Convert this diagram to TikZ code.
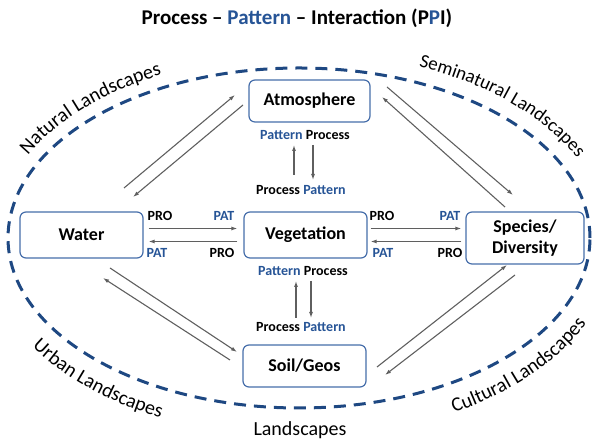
\documentclass[tikz,border=0pt]{standalone}
\usepackage{fontspec}
\setmainfont{Carlito}
\usetikzlibrary{arrows.meta,decorations.text}
\definecolor{bluetxt}{RGB}{38,84,150}
\definecolor{dashblue}{RGB}{30,72,130}
\definecolor{boxblue}{RGB}{70,110,170}
\definecolor{arrgray}{RGB}{95,95,95}
\begin{document}
\begin{tikzpicture}[x=1pt,y=1pt,
  box/.style={draw=boxblue, line width=1.2pt, rounded corners=6pt, fill=white,
    font=\fontsize{18}{21}\selectfont\bfseries, align=center, inner sep=0pt},
  arr/.style={draw=arrgray, line width=1.1pt, -{Latex[length=6pt,width=4pt]}},
  lbl/.style={font=\fontsize{14}{16}\selectfont\bfseries, inner sep=0pt},
  blu/.style={lbl, text=bluetxt}]
\useasboundingbox (0,0) rectangle (595,443);

% title
\node[font=\fontsize{21}{25}\selectfont\bfseries] (title) at (297,425)
  {Process -- \textcolor{bluetxt}{Pattern} -- Interaction (P\textcolor{bluetxt}{P}I)};

% dashed landscape ellipse
\draw[dashblue, line width=3pt, dash pattern=on 12pt off 8pt] (299,205) ellipse [x radius=291, y radius=170];

% landscape labels
\path[decorate, decoration={text along path, text align=center,
  text={|\fontsize{20}{24}\selectfont|Natural Landscapes}}]
  (299,205) ++(172:304 and 183) arc[start angle=172, end angle=104, x radius=304, y radius=183];
\path[decorate, decoration={text along path, text align=center,
  text={|\fontsize{19}{23}\selectfont|Seminatural Landscapes}}]
  (299,205) ++(80:308 and 186) arc[start angle=80, end angle=6, x radius=308, y radius=186];
\path[decorate, decoration={text along path, text align=center,
  text={|\fontsize{20}{24}\selectfont|Urban Landscapes}}]
  (299,205) ++(194:318 and 200) arc[start angle=194, end angle=258, x radius=318, y radius=200];
\path[decorate, decoration={text along path, text align=center,
  text={|\fontsize{20}{24}\selectfont|Cultural Landscapes}}]
  (299,205) ++(285:318 and 200) arc[start angle=285, end angle=355, x radius=318, y radius=200];
\node[font=\fontsize{20}{24}\selectfont] (land) at (300,13) {Landscapes};

% boxes
\node[box, minimum width=121pt, minimum height=42pt] (atm) at (309.5,342) {Atmosphere};
\node[box, minimum width=123pt, minimum height=46pt] (wat) at (81.5,208) {Water};
\node[box, minimum width=123pt, minimum height=46pt] (veg) at (305.5,208) {Vegetation};
\node[box, minimum width=118pt, minimum height=52pt] (spe) at (525,205) {Species/\\Diversity};
\node[box, minimum width=123pt, minimum height=42pt] (soi) at (304.5,77) {Soil/Geos};

% horizontal arrows
\coordinate (wv1) at ([yshift=6.5pt]wat.east);
\coordinate (wv2) at ([yshift=-6.5pt]wat.east);
\draw[arr, shorten <=5pt, shorten >=6pt] (wv1) -- (wv1 -| veg.west);
\draw[arr, shorten <=6pt, shorten >=5pt] (wv2 -| veg.west) -- (wv2);
\coordinate (vs1) at ([yshift=6.5pt]veg.east);
\coordinate (vs2) at ([yshift=-6.5pt]veg.east);
\draw[arr, shorten <=3pt, shorten >=4pt] (vs1) -- (vs1 -| spe.west);
\draw[arr, shorten <=4pt, shorten >=3pt] (vs2 -| spe.west) -- (vs2);

\node[lbl] (pro1) at (160,227) {PRO};
\node[blu] (pat1) at (224,227) {PAT};
\node[blu] (pat2) at (157,190) {PAT};
\node[lbl] (pro2) at (222,190) {PRO};
\node[lbl] (pro3) at (382,227) {PRO};
\node[blu] (pat3) at (450,227) {PAT};
\node[blu] (pat4) at (383,190) {PAT};
\node[lbl] (pro4) at (450,190) {PRO};

% vertical links
\node[lbl] (pp1) at (305,308) {\textcolor{bluetxt}{Pattern} Process};
\node[lbl] (pq1) at (301,253) {Process \textcolor{bluetxt}{Pattern}};
\coordinate (a1) at (294,268); \coordinate (a2) at (294,298);
\coordinate (a3) at (313,298); \coordinate (a4) at (313,263);
\draw[arr] (a1) -- (a2);
\draw[arr] (a3) -- (a4);

\node[lbl] (pp2) at (303,172) {\textcolor{bluetxt}{Pattern} Process};
\node[lbl] (pq2) at (301,116) {Process \textcolor{bluetxt}{Pattern}};
\coordinate (b1) at (296,125); \coordinate (b2) at (296,162);
\coordinate (b3) at (311,162); \coordinate (b4) at (311,125);
\draw[arr] (b1) -- (b2);
\draw[arr] (b3) -- (b4);

% diagonal links
\coordinate (wa1) at (124,255); \coordinate (wa2) at (235,348);
\coordinate (wa3) at (243,338); \coordinate (wa4) at (133,246);
\draw[arr] (wa1) -- (wa2);
\draw[arr] (wa3) -- (wa4);
\coordinate (as1) at (387,356); \coordinate (as2) at (513,248);
\coordinate (as3) at (505,236); \coordinate (as4) at (382,346);
\draw[arr] (as1) -- (as2);
\draw[arr] (as3) -- (as4);
\coordinate (ws1) at (110,175); \coordinate (ws2) at (237,91);
\coordinate (ws3) at (230,83); \coordinate (ws4) at (103,165);
\draw[arr] (ws1) -- (ws2);
\draw[arr] (ws3) -- (ws4);
\coordinate (ss1) at (377,76); \coordinate (ss2) at (507,178);
\coordinate (ss3) at (515,168); \coordinate (ss4) at (385,68);
\draw[arr] (ss1) -- (ss2);
\draw[arr] (ss3) -- (ss4);
\end{tikzpicture}
\end{document}
